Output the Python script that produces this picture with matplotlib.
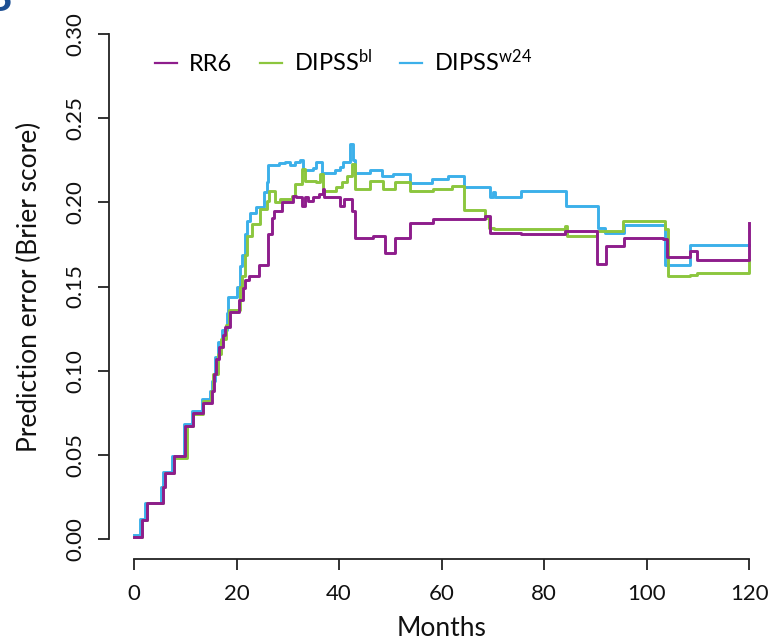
import matplotlib
matplotlib.use("Agg")
import matplotlib.pyplot as plt
from matplotlib.lines import Line2D

# step functions (months, Brier score)
rr6_t = [0, 1.5, 2.5, 5.6, 6.0, 7.8, 10.0, 11.6, 13.5, 15.2, 15.6, 16.0, 16.5, 17.3,
         17.8, 18.7, 20.5, 21.2, 21.7, 22.4, 24.3, 26.2, 26.9, 27.3, 28.8, 31.1, 31.7,
         32.7, 33.4, 34.0, 35.0, 36.0, 36.8, 37.1, 40.2, 41.0, 42.5, 43.1, 46.7, 49.0,
         50.9, 53.9, 58.4, 68.5, 69.5, 75.6, 84.1, 90.3, 92.1, 95.7, 103.3, 104.0,
         108.5, 109.8, 119.9, 120]
rr6_v = [0.001, 0.011, 0.021, 0.031, 0.039, 0.049, 0.067, 0.075, 0.081, 0.088, 0.098,
         0.107, 0.114, 0.121, 0.126, 0.135, 0.142, 0.149, 0.154, 0.156, 0.163, 0.181,
         0.191, 0.195, 0.200, 0.204, 0.203, 0.198, 0.203, 0.201, 0.203, 0.205, 0.208,
         0.203, 0.198, 0.202, 0.195, 0.179, 0.180, 0.170, 0.179, 0.188, 0.190, 0.192,
         0.182, 0.181, 0.183, 0.1635, 0.174, 0.179, 0.178, 0.1675, 0.171, 0.166, 0.188,
         0.188]

bl_t = [0, 1.5, 2.5, 5.6, 6.0, 7.8, 10.3, 11.6, 13.5, 15.0, 15.5, 16.3, 17.0, 18.0,
        18.5, 20.6, 21.0, 21.7, 22.0, 23.0, 24.6, 25.9, 26.4, 27.5, 28.5, 30.8, 31.4,
        32.7, 33.4, 35.6, 36.3, 36.9, 39.5, 40.5, 41.5, 42.5, 43.1, 46.0, 48.6, 50.9,
        53.9, 58.4, 62.0, 64.3, 68.5, 69.2, 70.2, 84.1, 84.5, 90.3, 95.5, 103.6, 104.1,
        108.5, 109.8, 119.9, 120]
bl_v = [0.001, 0.011, 0.021, 0.031, 0.039, 0.048, 0.067, 0.074, 0.082, 0.088, 0.098,
        0.110, 0.119, 0.127, 0.136, 0.150, 0.156, 0.169, 0.180, 0.187, 0.196, 0.201,
        0.207, 0.200, 0.202, 0.204, 0.211, 0.220, 0.213, 0.212, 0.217, 0.207, 0.209,
        0.212, 0.2155, 0.223, 0.208, 0.213, 0.208, 0.212, 0.2067, 0.208, 0.210, 0.1956,
        0.191, 0.185, 0.184, 0.186, 0.180, 0.183, 0.189, 0.184, 0.156, 0.157, 0.158,
        0.1655, 0.1655]

w24_t = [0, 1.2, 2.2, 5.3, 5.7, 7.5, 9.7, 11.3, 13.2, 14.8, 15.3, 15.8, 16.3, 17.1,
         18.1, 18.4, 20.0, 20.6, 21.0, 21.7, 22.0, 22.6, 23.9, 25.4, 25.9, 26.2, 28.2,
         29.5, 30.4, 31.4, 32.3, 32.9, 35.0, 35.5, 36.6, 39.2, 40.2, 40.8, 42.1, 42.8,
         43.1, 46.0, 48.3, 50.6, 53.9, 58.1, 61.3, 64.3, 69.5, 70.1, 70.4, 75.6, 84.3,
         90.6, 91.9, 95.7, 103.6, 108.5, 120]
w24_v = [0.002, 0.012, 0.021, 0.031, 0.040, 0.049, 0.068, 0.076, 0.083, 0.088, 0.094,
         0.108, 0.117, 0.124, 0.134, 0.1436, 0.1496, 0.1625, 0.169, 0.181, 0.189, 0.194,
         0.197, 0.206, 0.212, 0.222, 0.2236, 0.224, 0.222, 0.224, 0.225, 0.2194, 0.2204,
         0.224, 0.2175, 0.219, 0.221, 0.224, 0.235, 0.225, 0.2175, 0.2194, 0.216, 0.2167,
         0.2117, 0.214, 0.2155, 0.209, 0.203, 0.206, 0.203, 0.207, 0.198, 0.185, 0.182,
         0.1867, 0.163, 0.1744, 0.1744]

labels = ['RR6', 'DIPSS$^{\\mathrm{bl}}$', 'DIPSS$^{\\mathrm{w24}}$']
colors = ['#8e1d8c', '#8cc63e', '#3cb0ea']

plt.rcParams['font.family'] = ['Lato', 'DejaVu Sans']
plt.rcParams['mathtext.fontset'] = 'custom'
plt.rcParams['mathtext.rm'] = 'Lato'
plt.rcParams['mathtext.it'] = 'Lato:italic'
plt.rcParams['mathtext.bf'] = 'Lato:bold'

fig = plt.figure(figsize=(7.71, 6.40), dpi=100)
ax = fig.add_axes([0.1419, 0.1266, 0.8615, 0.8514])

lw = 2.1
ax.step(w24_t, w24_v, where='post', color=colors[2], lw=lw, zorder=2)
ax.step(bl_t, bl_v, where='post', color=colors[1], lw=lw, zorder=3)
ax.step(rr6_t, rr6_v, where='post', color=colors[0], lw=lw, zorder=4)

ax.set_xlim(-4.8, 124.8)
ax.set_ylim(-0.012, 0.312)

# R-style detached axes
for side in ['top', 'right']:
    ax.spines[side].set_visible(False)
ax.spines['left'].set_bounds(0, 0.3)
ax.spines['bottom'].set_bounds(0, 120)
for side in ['left', 'bottom']:
    ax.spines[side].set_linewidth(1.3)
    ax.spines[side].set_color('#222222')

ax.set_xticks([0, 20, 40, 60, 80, 100, 120])
ax.set_yticks([0.0, 0.05, 0.10, 0.15, 0.20, 0.25, 0.30])
ax.set_yticklabels(['0.00', '0.05', '0.10', '0.15', '0.20', '0.25', '0.30'],
                   rotation=90, va='center')
ax.tick_params(axis='both', direction='out', length=8, width=1.3, color='#222222',
               labelsize=16, labelcolor='#111111')
ax.tick_params(axis='x', pad=10)
ax.tick_params(axis='y', pad=9)

ax.set_xlabel('Months', fontsize=19, color='#111111', labelpad=9)
ax.set_ylabel('Prediction error (Brier score)', fontsize=19, color='#111111', labelpad=17)

handles = [Line2D([], [], color=c, lw=1.6) for c in colors]
fig.legend(handles, labels, loc='center left', ncol=3, frameon=False,
           bbox_to_anchor=(155 / 771, 1 - 61.7 / 640), bbox_transform=fig.transFigure,
           fontsize=17, handlelength=0.95, handletextpad=0.5, columnspacing=1.15,
           borderpad=0, borderaxespad=0)

# panel letter, cut off at the corner as in the source
fig.text(0.0156, 1 - 10.7 / 640, 'B', ha='right', va='baseline', fontsize=30,
         fontweight='bold', color='#1d4f93')

fig.savefig('out.png', dpi=100)
